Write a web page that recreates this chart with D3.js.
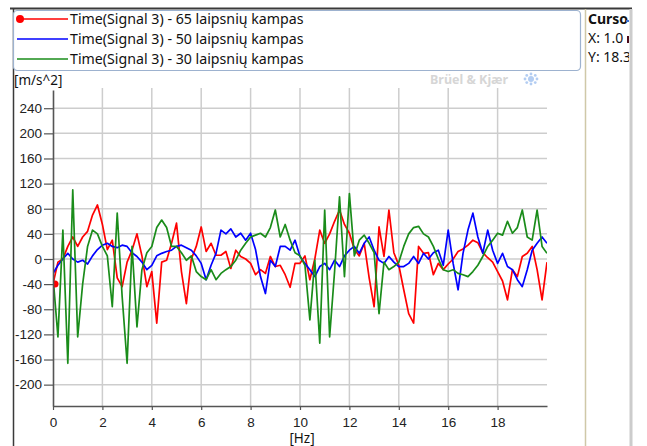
<!DOCTYPE html>
<html>
<head>
<meta charset="utf-8">
<script src="https://cdn.jsdelivr.net/npm/d3@7"></script>
<style>
	body { margin: 0; background: #fff; }
	svg { display: block; font-family: "Noto Sans", "Open Sans", sans-serif; }
	.tick text { font-size: 13.5px; fill: #222; }
</style>
</head>
<body>
<div id="chart"></div>
<script>

// sample spacing of the spectra [Hz]
var freqStep = 0.2;

var seriesNames = [
	'Time(Signal 3) - 65 laipsnių kampas',
	'Time(Signal 3) - 50 laipsnių kampas',
	'Time(Signal 3) - 30 laipsnių kampas'
];

var red65 = [
	-40, -5, 0, 20, 35, 20, 35, 44, 70, 86,
	55, 15, 30, -30, -44, -5, 14, 40, 5, -44,
	-20, -102, -5, -2, 25, 57, -20, -71, 0, 20,
	51, 12, 25, 6, 6, 12, -15, 14, 4, 0,
	-7, -25, -17, -23, 4, -12, -10, -25, -45, -7,
	-7, 5, -33, 0, 46, 25, 40, 60, 78, 55,
	41, 15, 5, 25, -30, -76, 51, 4, 78, 10,
	-10, -49, -87, -102, 20, 9, 10, -25, -7, -17,
	-8, 0, 12, 16, 22, 30, 26, 10, 2, -5,
	-20, -35, -65, -17, -28, 4, 9, 20, -17, -65,
	-5
];

var blue50 = [
	-23, -10, 0, 9, 0, -5, -2, -8, 5, 15,
	22, 25, 20, 18, 22, 20, 10, 4, -5, -17,
	-10, 5, 9, 12, 14, 20, 22, 18, 14, 5,
	-7, -33, -10, 9, 46, 40, 48, 35, 41, 30,
	41, 15, -28, -55, -2, -12, 20, 20, 14, 30,
	4, -7, -17, -28, -12, -7, -17, -2, -12, 5,
	14, 20, 9, 25, 35, 14, -2, -7, 4, -5,
	-12, -12, -7, 4, -7, 9, 0, 10, 14, -10,
	46, -7, -49, 9, 46, 73, 35, 9, 46, 14,
	-7, 9, -12, -17, -33, -44, -17, 14, 25, 35,
	25
];

var green30 = [
	-28, -124, 46, -166, 110, -124, -40, 20, 46, 40,
	20, 5, -76, 73, -60, -166, 20, -108, -17, 10,
	20, 50, 62, 50, 20, 20, 10, -2, 5, -20,
	-28, -33, -17, -33, -23, -17, -12, -2, 14, 25,
	35, 38, 41, 35, 50, 78, 35, 55, 30, 10,
	5, -10, -97, -2, -134, 78, -124, -20, 99, -28,
	104, 5, 30, 38, 25, 10, -87, -5, -17, -12,
	-5, 20, 40, 50, 52, 40, 35, 20, 0, -17,
	-20, -17, -23, -25, -28, -20, -10, 4, 20, 30,
	41, 38, 60, 41, 50, 78, 35, 30, 78, 20,
	9
];

var xTicks = [0, 2, 4, 6, 8, 10, 12, 14, 16, 18];
var yTicks = [-200, -160, -120, -80, -40, 0, 40, 80, 120, 160, 200, 240];
var seriesColors = ['#ff0000', '#0000ff', '#1a8c1a'];
var cursorLines = ['Curso', 'X: 1.0', 'Y: 18.3'];

var W = 647, H = 446;
var plot = { left: 53, right: 547, top: 90, bottom: 406 };

var svg = d3.select('#chart').append('svg')
	.attr('width', W)
	.attr('height', H)

var xScale = d3.scaleLinear().domain([0, 20]).range([plot.left, plot.right])
var yScale = d3.scaleLinear().domain([-234, 269]).range([plot.bottom, plot.top])

/* window frame */
svg.append('line').attr('x1', 10).attr('x2', 632).attr('y1', 8.5).attr('y2', 8.5)
	.attr('stroke', '#3a3a3a').attr('stroke-width', 2)
svg.append('line').attr('x1', 13.5).attr('x2', 13.5).attr('y1', 8).attr('y2', H)
	.attr('stroke', '#3a3a3a').attr('stroke-width', 1.5)
svg.append('line').attr('x1', 585.5).attr('x2', 585.5).attr('y1', 9).attr('y2', H)
	.attr('stroke', '#cfc8a8').attr('stroke-width', 1.5)
svg.append('line').attr('x1', 631).attr('x2', 631).attr('y1', 9).attr('y2', H)
	.attr('stroke', '#cccccc').attr('stroke-width', 3)

/* cursor panel, clipped on its right side */
svg.append('clipPath').attr('id', 'cursorClip')
	.append('rect').attr('x', 586).attr('y', 9).attr('width', 43).attr('height', 80)
var cursorG = svg.append('g').attr('clip-path', 'url(#cursorClip)')
cursorLines.forEach(function (t, i) {
	cursorG.append('text')
		.attr('x', 588)
		.attr('y', 24 + i * 19)
		.attr('font-size', 14)
		.attr('font-weight', i == 0 ? 'bold' : 'normal')
		.attr('fill', '#111')
		.text(t)
})
cursorG.append('line').attr('x1', 626).attr('x2', 632).attr('y1', 21).attr('y2', 21)
	.attr('stroke', '#3b6fd0').attr('stroke-width', 2)
cursorG.append('rect').attr('x', 627).attr('y', 36).attr('width', 4).attr('height', 7)
	.attr('fill', '#4a0a1a')

/* legend */
svg.append('rect')
	.attr('x', 13.5).attr('y', 10.5).attr('width', 567).attr('height', 60).attr('rx', 4)
	.attr('fill', '#fff').attr('stroke', '#9db2cf').attr('stroke-width', 1.2)

var legend = svg.append('g').selectAll('g')
	.data(seriesNames)
	.join('g')
	.attr('transform', function (d, i) { return 'translate(0,' + (19 + i * 20) + ')' })

legend.append('line')
	.attr('x1', 17).attr('x2', 68)
	.attr('stroke', function (d, i) { return seriesColors[i] })
	.attr('stroke-width', 1.4)
legend.filter(function (d, i) { return i == 0 }).append('circle')
	.attr('cx', 20).attr('r', 4).attr('fill', seriesColors[0])
legend.append('text')
	.attr('x', 70)
	.attr('dy', '0.36em')
	.attr('font-size', 14.2)
	.attr('fill', '#111')
	.text(function (d) { return d })

/* watermark */
svg.append('text')
	.attr('x', 430).attr('y', 84)
	.attr('font-size', 12.5).attr('font-weight', 'bold')
	.attr('fill', '#d6d6d6')
	.text('Brüel & Kjær')
var logo = svg.append('g').attr('transform', 'translate(531,79)').attr('fill', '#b3cdf2')
d3.range(8).forEach(function (k) {
	var a = k * Math.PI / 4
	logo.append('circle').attr('cx', 6 * Math.cos(a)).attr('cy', 5 * Math.sin(a)).attr('r', 1.4)
})
logo.append('circle').attr('r', 3)

/* axis titles */
svg.append('text').attr('x', 14).attr('y', 85)
	.attr('font-size', 13.5).attr('fill', '#111').text('[m/s^2]')
svg.append('text').attr('x', 302).attr('y', 443).attr('text-anchor', 'middle')
	.attr('font-size', 13.5).attr('fill', '#111').text('[Hz]')

/* grid */
var grid = svg.append('g').attr('stroke', '#cdcdcd').attr('stroke-width', 1.5)
grid.selectAll('.hg').data(yTicks).join('line')
	.attr('x1', plot.left).attr('x2', plot.right)
	.attr('y1', function (d) { return yScale(d) }).attr('y2', function (d) { return yScale(d) })
grid.selectAll('.vg').data(xTicks.slice(1)).join('line')
	.attr('y1', plot.top - 2).attr('y2', plot.bottom)
	.attr('x1', function (d) { return xScale(d) }).attr('x2', function (d) { return xScale(d) })

/* series */
svg.append('clipPath').attr('id', 'plotClip')
	.append('rect')
	.attr('x', plot.left).attr('y', plot.top)
	.attr('width', plot.right - plot.left).attr('height', plot.bottom - plot.top)

var lineGen = d3.line()
	.x(function (d, i) { return xScale(i * freqStep) })
	.y(function (d) { return yScale(d) })

var lines = svg.append('g').attr('clip-path', 'url(#plotClip)')
;[red65, blue50, green30].forEach(function (vals, i) {
	lines.append('path')
		.attr('d', lineGen(vals))
		.attr('fill', 'none')
		.attr('stroke', seriesColors[i])
		.attr('stroke-width', 1.7)
		.attr('stroke-linejoin', 'round')
})
lines.append('circle')
	.attr('cx', xScale(0) + 2).attr('cy', yScale(red65[0]))
	.attr('r', 3.5).attr('fill', seriesColors[0])

/* axes */
var yAxis = d3.axisLeft(yScale)
	.tickValues(yTicks)
	.tickSize(9)
	.tickSizeOuter(0)
	.tickPadding(2)
	.tickFormat(function (d) { return String(d) })
var xAxis = d3.axisBottom(xScale)
	.tickValues(xTicks)
	.tickSize(4)
	.tickSizeOuter(0)
	.tickPadding(7)
	.tickFormat(function (d) { return String(d) })

var yAxisG = svg.append('g').attr('transform', 'translate(' + plot.left + ',0)').call(yAxis)
var xAxisG = svg.append('g').attr('transform', 'translate(0,' + plot.bottom + ')').call(xAxis)

svg.selectAll('.domain').attr('stroke', '#555').attr('stroke-width', 1.6)
svg.selectAll('.tick line').attr('stroke', '#555').attr('stroke-width', 1.2)

</script>
</body>
</html>
